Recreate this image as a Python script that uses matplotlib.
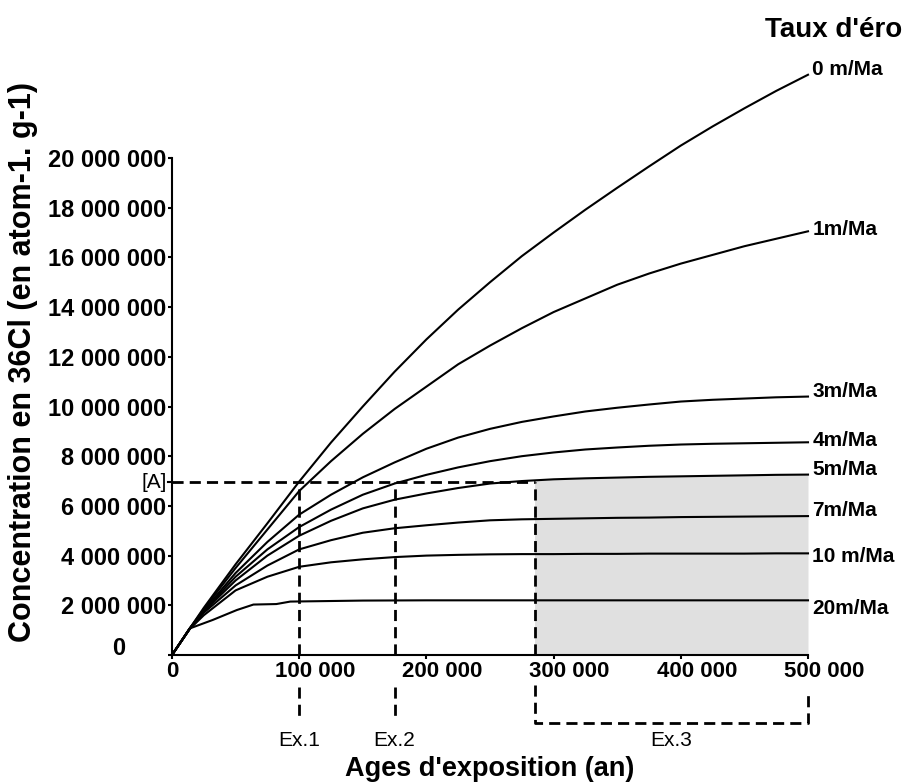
import numpy as np
import matplotlib
matplotlib.use('Agg')
import matplotlib.pyplot as plt
import matplotlib.transforms as mtransforms

plt.rcParams['font.family'] = ['Liberation Sans', 'DejaVu Sans']

# ages d'exposition (an)
ages = [0, 14000, 25000, 50000, 75000, 100000, 125000, 150000, 175000, 200000,
        225000, 250000, 275000, 300000, 325000, 350000, 375000, 400000,
        425000, 450000, 475000, 500000]

# concentration en 36Cl (atom/g) par taux d'erosion
c_0 = [0, 1.07e6, 1.9e6, 3.65e6, 5.3e6, 6.98e6, 8.55e6, 10.0e6, 11.4e6, 12.7e6,
       13.9e6, 15.0e6, 16.05e6, 17.0e6, 17.92e6, 18.8e6, 19.66e6, 20.5e6,
       21.27e6, 22.0e6, 22.7e6, 23.35e6]
c_1 = [0, 1.07e6, 1.85e6, 3.5e6, 5.05e6, 6.6e6, 7.8e6, 8.9e6, 9.9e6, 10.8e6,
       11.7e6, 12.45e6, 13.15e6, 13.8e6, 14.35e6, 14.9e6, 15.35e6, 15.75e6,
       16.1e6, 16.45e6, 16.75e6, 17.05e6]
c_3 = [0, 1.07e6, 1.8e6, 3.3e6, 4.55e6, 5.65e6, 6.45e6, 7.15e6, 7.75e6, 8.3e6,
       8.75e6, 9.1e6, 9.38e6, 9.6e6, 9.8e6, 9.95e6, 10.08e6, 10.2e6,
       10.27e6, 10.32e6, 10.37e6, 10.4e6]
c_4 = [0, 1.07e6, 1.78e6, 3.15e6, 4.25e6, 5.15e6, 5.85e6, 6.45e6, 6.9e6, 7.25e6,
       7.55e6, 7.8e6, 8.0e6, 8.15e6, 8.27e6, 8.35e6, 8.42e6, 8.47e6,
       8.5e6, 8.52e6, 8.54e6, 8.56e6]
c_5 = [0, 1.07e6, 1.75e6, 3.0e6, 4.0e6, 4.8e6, 5.4e6, 5.9e6, 6.25e6, 6.5e6,
       6.72e6, 6.9e6, 7.0e6, 7.07e6, 7.11e6, 7.14e6, 7.17e6, 7.19e6,
       7.21e6, 7.23e6, 7.25e6, 7.26e6]
c_7 = [0, 1.05e6, 1.7e6, 2.8e6, 3.6e6, 4.25e6, 4.62e6, 4.92e6, 5.1e6, 5.22e6,
       5.33e6, 5.42e6, 5.46e6, 5.48e6, 5.5e6, 5.52e6, 5.53e6, 5.55e6,
       5.56e6, 5.57e6, 5.58e6, 5.59e6]
c_10 = [0, 1.05e6, 1.6e6, 2.6e6, 3.15e6, 3.55e6, 3.73e6, 3.85e6, 3.94e6, 4.0e6,
        4.03e6, 4.05e6, 4.06e6, 4.06e6, 4.07e6, 4.07e6, 4.08e6, 4.08e6,
        4.08e6, 4.08e6, 4.09e6, 4.09e6]

ages_20 = [0, 14000, 32000, 51000, 64000, 82000, 93000, 150000,
           200000, 300000, 400000, 500000]
c_20 = [0, 1.07e6, 1.41e6, 1.81e6, 2.03e6, 2.05e6, 2.15e6, 2.19e6,
        2.2e6, 2.2e6, 2.2e6, 2.2e6]

labels = ['0 m/Ma', '1m/Ma', '3m/Ma', '4m/Ma', '5m/Ma', '7m/Ma', '10 m/Ma', '20m/Ma']
label_dy = [4, 1, 4, 1, 4, 4, -2, -6]  # decalage vertical des etiquettes (points)

y_ticks = [2e6, 4e6, 6e6, 8e6, 10e6, 12e6, 14e6, 16e6, 18e6, 20e6]
y_ticklabels = ['2 000 000', '4 000 000', '6 000 000', '8 000 000', '10 000 000',
                '12 000 000', '14 000 000', '16 000 000', '18 000 000', '20 000 000']
x_ticks = [0, 100000, 200000, 300000, 400000, 500000]
x_ticklabels = ['0', '100 000', '200 000', '300 000', '400 000', '500 000']

conc_A = 6.95e6
ex_ages = [100000, 175000, 285000]
ex_names = ['Ex.1', 'Ex.2', 'Ex.3']

W, H = 904, 784
fig = plt.figure(figsize=(W / 100, H / 100), dpi=100)
ymax = 24e6
ax = fig.add_axes([172 / W, (H - 655) / H, 636 / W, (655 - 58.6) / H])
ax.set_xlim(0, 500000)
ax.set_ylim(0, ymax)

series = [(ages, c_0), (ages, c_1), (ages, c_3), (ages, c_4),
          (ages, c_5), (ages, c_7), (ages, c_10), (ages_20, c_20)]
for (xs, ys), lab, dy in zip(series, labels, label_dy):
    ax.plot(xs, ys, color='black', lw=1.5, zorder=3, clip_on=False)
    ax.annotate(lab, (xs[-1], ys[-1]), xytext=(3, dy), textcoords='offset points',
                va='center', ha='left', fontsize=15, fontweight='bold',
                annotation_clip=False)

# zone grisee (Ex.3) sous la courbe 5 m/Ma
x_fill = [ex_ages[2]] + [a for a in ages if a > ex_ages[2]]
y_fill = np.interp(x_fill, ages, c_5)
ax.fill_between(x_fill, 0, y_fill, color='#e0e0e0', lw=0, zorder=1)

# lignes pointillees
dash = dict(color='black', lw=2, linestyle=(0, (4, 2.2)), zorder=4, clip_on=False)
ax.plot([0, ex_ages[2]], [conc_A, conc_A], **dash)
for xa in ex_ages:
    ax.plot([xa, xa], [0, conc_A], **dash)
ax.plot([ex_ages[0]] * 2, [-1.3e6, -2.5e6], **dash)
ax.plot([ex_ages[1]] * 2, [-1.3e6, -2.5e6], **dash)
ax.plot([ex_ages[2], ex_ages[2], 500000, 500000],
        [-1.2e6, -2.75e6, -2.75e6, -1.6e6], **dash)
for xa, name in zip([ex_ages[0], ex_ages[1], 392500], ex_names):
    ax.text(xa, -3.45e6, name, ha='center', va='center', fontsize=15)

# [A] sur l'axe
ax.plot([-3500, 0], [conc_A, conc_A], color='black', lw=1.5, clip_on=False)
ax.text(-4000, conc_A, '[A]', ha='right', va='center', fontsize=15)

# axes
for s in ['top', 'right']:
    ax.spines[s].set_visible(False)
ax.spines['left'].set_bounds(0, 20e6)
ax.spines['left'].set_linewidth(1.5)
ax.spines['bottom'].set_linewidth(1.5)
ax.set_yticks([0] + y_ticks)
ax.set_yticklabels([''] + y_ticklabels, fontsize=17, fontweight='bold')
ax.set_xticks(x_ticks)
ax.set_xticklabels(x_ticklabels, fontsize=16, fontweight='bold')
ax.tick_params(axis='both', direction='out', length=3, width=1.5, pad=1)
shift = mtransforms.ScaledTranslation(16 / 100, 0, fig.dpi_scale_trans)
for lbl in ax.get_xticklabels()[1:]:
    lbl.set_transform(lbl.get_transform() + shift)
ax.text(-41700, 0.28e6, '0', ha='center', va='center', fontsize=17, fontweight='bold')

ax.text(250000, -4.6e6, "Ages d'exposition (an)", ha='center', va='center',
        fontsize=19.5, fontweight='bold')
fig.text(23 / W, 1 - 362 / H, 'Concentration en 36Cl (en atom-1. g-1)', rotation=90,
         ha='center', va='center', fontsize=22, fontweight='bold')
fig.text(765 / W, 1 - 30 / H, "Taux d'érosion", ha='left', va='center',
         fontsize=20, fontweight='bold')

fig.savefig('out.png', dpi=100)
